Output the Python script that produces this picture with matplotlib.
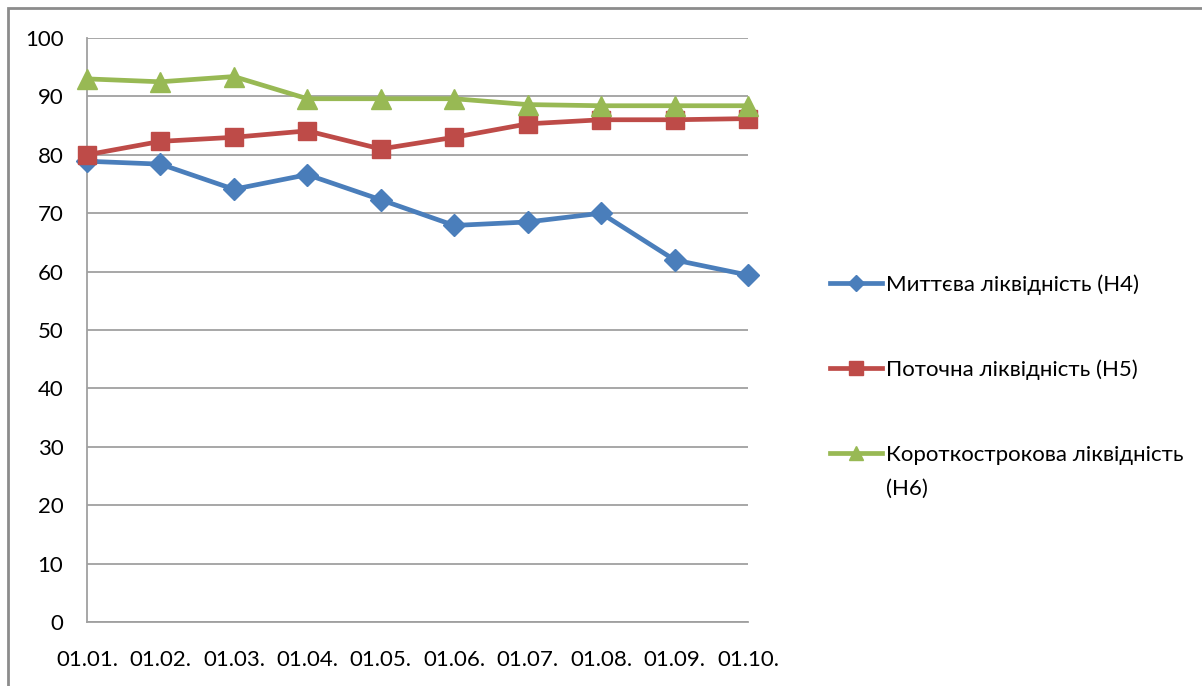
import matplotlib
matplotlib.use("Agg")
import matplotlib.pyplot as plt
from matplotlib.patches import Rectangle

plt.rcParams['font.family'] = ['Lato', 'DejaVu Sans']

categories = ["01.01.", "01.02.", "01.03.", "01.04.", "01.05.",
              "01.06.", "01.07.", "01.08.", "01.09.", "01.10."]
h4 = [78.9, 78.4, 74.1, 76.6, 72.3, 67.9, 68.5, 70.0, 62.0, 59.4]
h5 = [80.0, 82.3, 83.0, 84.1, 81.0, 83.0, 85.3, 86.0, 86.0, 86.2]
h6 = [93.0, 92.5, 93.4, 89.6, 89.6, 89.6, 88.6, 88.4, 88.4, 88.4]
labels = ["Миттєва ліквідність (Н4)", "Поточна ліквідність (Н5)",
          "Короткострокова ліквідність"]
label_tail = "(Н6)"
yticks = [0, 10, 20, 30, 40, 50, 60, 70, 80, 90, 100]

W, H = 1202, 686
fig = plt.figure(figsize=(W / 100, H / 100), dpi=100)
ax = fig.add_axes([87 / W, 1 - 622 / H, (748 - 87) / W, (622 - 38) / H])

x = list(range(len(categories)))
fs = 16
ax.plot(x, h4, color="#4A7EBB", lw=3.4, marker="D", markersize=11, label=labels[0], clip_on=False, zorder=3)
ax.plot(x, h5, color="#BE4B48", lw=3.4, marker="s", markersize=12.5, label=labels[1], clip_on=False, zorder=3)
ax.plot(x, h6, color="#98B954", lw=3.4, marker="^", markersize=14, label=labels[2], clip_on=False, zorder=3)

ax.set_xlim(0, len(categories) - 1)
ax.set_ylim(0, 100)
ax.set_yticks(yticks)
ax.set_xticks(x)
ax.set_xticklabels(categories)
ax.tick_params(axis="both", length=0, labelsize=fs, colors="#000000")
ax.tick_params(axis="y", pad=17)
ax.tick_params(axis="x", pad=20)
ax.grid(axis="y", color="#A0A0A0", lw=1.3)
ax.set_axisbelow(True)
for s in ["top", "right"]:
    ax.spines[s].set_visible(False)
for s in ["left", "bottom"]:
    ax.spines[s].set_color("#A0A0A0")
    ax.spines[s].set_linewidth(1.3)

leg = fig.legend(loc="upper left", bbox_to_anchor=(830 / W, 1 - 274 / H),
                 frameon=False, fontsize=fs, handlelength=2.35,
                 handletextpad=0.15, labelspacing=2.92, borderpad=0,
                 borderaxespad=0)
for lh, ms in zip(leg.legend_handles, [8, 10, 10]):
    lh.set_markersize(ms)

fig.canvas.draw()
r = fig.canvas.get_renderer()
t3 = leg.get_texts()[2]
bb = t3.get_window_extent(r)
fig.text(bb.x0 / W, (bb.y0 + bb.y1) / 2 / H - 34 / H, label_tail,
         fontsize=fs, va="center", ha="left")

fig.add_artist(Rectangle((8 / W, -0.1), 1.2, 1 - 8 / H + 0.1, fill=False,
                         edgecolor="#8C8C8C", lw=2, transform=fig.transFigure,
                         clip_on=False))

fig.savefig("out.png", dpi=100)
